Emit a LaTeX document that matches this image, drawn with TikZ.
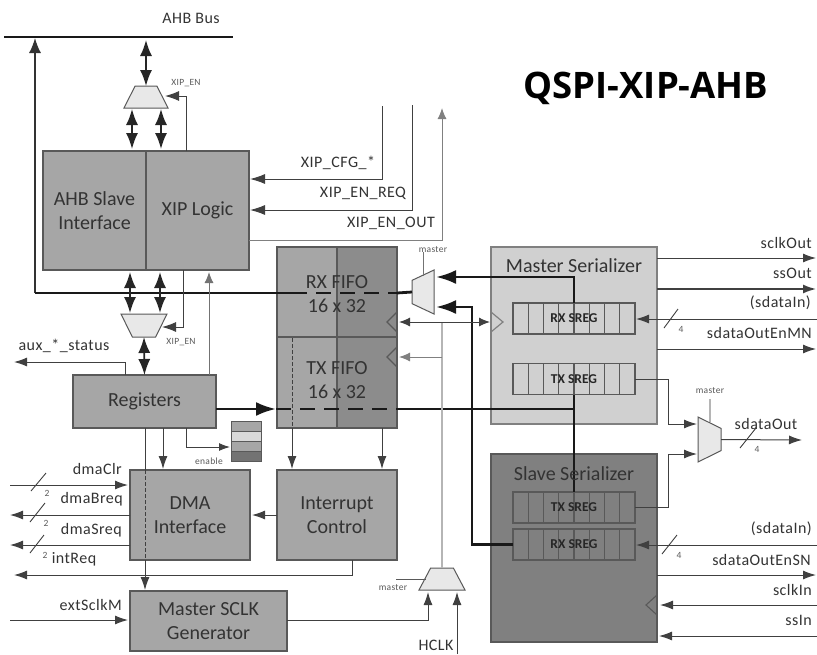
\documentclass[tikz,border=0pt]{standalone}
\usepackage{fontspec}
\setmainfont{Carlito}
\newfontfamily\spacedfont[LetterSpace=3]{Carlito}
\newfontfamily\titlefont{Open Sans}
\usetikzlibrary{arrows.meta,shapes.geometric}
\definecolor{boxgray}{HTML}{A6A6A6}
\definecolor{boxdark}{HTML}{8C8C8C}
\definecolor{boxedge}{HTML}{595959}
\definecolor{masterfill}{HTML}{D0D0D0}
\definecolor{slavefill}{HTML}{808080}
\definecolor{muxfill}{HTML}{E8E8E8}
\definecolor{inktext}{HTML}{333333}
\definecolor{lightwire}{HTML}{B5B5B5}
\newcommand{\muxbody}{\phantom{\rule{1pt}{1pt}}}
\tikzstyle{block} = [draw=boxedge,line width=1.2pt,fill=boxgray,inner sep=0pt,outer sep=0pt,align=center,text=inktext,font=\fontsize{20}{24}\selectfont]
\tikzstyle{fifotext} = [inner sep=0pt,align=center,text=inktext,font=\fontsize{20}{24.5}\selectfont]
\tikzstyle{sregcell} = [draw=boxedge,line width=1.2pt,inner sep=0pt,outer sep=0pt,minimum width=15.25pt,minimum height=31pt]
\tikzstyle{sregtext} = [inner sep=0pt,text=black!85,font=\fontsize{13.5}{14}\bfseries\selectfont]
\tikzstyle{mux} = [draw=boxedge,line width=1pt,fill=muxfill,trapezium,trapezium stretches=true,inner sep=0pt,outer sep=0pt]
\tikzstyle{clocktip} = [draw=boxedge,line width=1.1pt,line join=miter]
\tikzstyle{lbl} = [inner sep=0pt,text=inktext,font=\spacedfont\fontsize{16}{18}\selectfont]
\tikzstyle{tiny} = [inner sep=0pt,text=black!65,font=\spacedfont\fontsize{9.5}{10}\selectfont]
\tikzstyle{wire} = [draw=black!75,line width=1pt]
\tikzstyle{wirearrow} = [wire,-{Latex[length=13pt,width=9pt]}]
\tikzstyle{greyarrow} = [draw=black!50,line width=1pt,-{Latex[length=11pt,width=9pt]}]
\tikzstyle{thickwire} = [draw=black!90,line width=2.8pt]
\tikzstyle{thickarrow} = [thickwire,-{Latex[length=20pt,width=14pt]}]
\tikzstyle{bigdouble} = [draw=black!85,line width=1.6pt,{Latex[length=16pt,width=12pt]}-{Latex[length=16pt,width=12pt]}]
\tikzstyle{slashmark} = [draw=black!75,line width=0.9pt]
\begin{document}
\begin{tikzpicture}[x=1pt,y=-1pt]
\useasboundingbox (0,0) rectangle (817,654);
% serializers and blocks
\node[block,fill=masterfill,draw=black!50,minimum width=166pt,minimum height=177pt] (masterser) at (574,335.5) {};
\node[block,fill=slavefill,minimum width=166pt,minimum height=188pt] (slaveser) at (574,548) {};
\node[block,minimum width=103pt,minimum height=119pt] (ahbslave) at (94.5,210.5) {AHB Slave\\Interface};
\node[block,minimum width=103pt,minimum height=119pt] (xiplogic) at (197.5,210.5) {XIP Logic};
\node[block,minimum width=60pt,minimum height=90pt] (rxleft) at (307,292) {};
\node[block,fill=boxdark,minimum width=60pt,minimum height=90pt] (rxright) at (367,292) {};
\node[block,minimum width=60pt,minimum height=91pt] (txleft) at (307,382.5) {};
\node[block,fill=boxdark,minimum width=60pt,minimum height=91pt] (txright) at (367,382.5) {};
\node[block,minimum width=143pt,minimum height=53pt] (registers) at (144.5,401.5) {Registers};
\node[block,minimum width=120pt,minimum height=90pt] (dmaif) at (190,515) {DMA\\Interface};
\node[block,minimum width=120pt,minimum height=90pt] (intctrl) at (337,515) {Interrupt\\Control};
\node[block,minimum width=157pt,minimum height=60pt] (sclkgen) at (208.5,621) {Master SCLK\\Generator};
% enable stack
\foreach \i/\fillc in {0/boxgray,1/black!15,2/boxgray,3/black!55} {
	\node[draw=boxedge,line width=0.8pt,fill=\fillc,inner sep=0pt,outer sep=0pt,minimum width=30pt,minimum height=10pt] (enable\i) at (246,426+\i*10) {};
}
% muxes
\node[mux,trapezium left angle=63,trapezium right angle=63,minimum width=44pt,minimum height=22pt] (muxtop) at (146,97) {\muxbody};
\node[mux,shape border rotate=180,trapezium left angle=64,trapezium right angle=64,minimum width=46pt,minimum height=23pt] (muxlow) at (144,325.5) {\muxbody};
\node[mux,shape border rotate=90,trapezium left angle=66,trapezium right angle=66,minimum width=44pt,minimum height=22pt] (muxrx) at (423,292) {\muxbody};
\node[mux,shape border rotate=270,trapezium left angle=63,trapezium right angle=63,minimum width=45pt,minimum height=23pt] (muxout) at (709.5,439.5) {\muxbody};
\node[mux,trapezium left angle=63,trapezium right angle=63,minimum width=46pt,minimum height=22pt] (muxclk) at (442,579) {\muxbody};
% shift registers
\foreach \name/\ypos/\text in {mrx/318.5/RX SREG,mtx/379/TX SREG,stx/507.5/TX SREG,srx/544.5/RX SREG} {
	\foreach \x in {0,1,...,7} {
		\node[sregcell] (\name\x) at (520.6+\x*15.25,\ypos) {};
	}
	\node[sregtext] (\name text) at (574,\ypos) {\text};
}
% ports
\coordinate (buswest) at (4,37);
\coordinate (buseast) at (233,37);
\coordinate (busleft) at (35,38);
\coordinate (busdrop) at (146,40);
\coordinate (rxbus) at (35,293);
\coordinate (rxbusend) at (292,293);
\coordinate (rxmuxin) at (397,293);
\coordinate (txbusin) at (216,409);
\coordinate (txbusin2) at (276,409);
\coordinate (txbusout) at (397,409);
\coordinate (txcorner) at (573,409);
\coordinate (mrxup) at (573,277);
\coordinate (mrxmux) at (436,277);
\coordinate (srxmux) at (436,307);
\coordinate (srxcorner) at (472,307);
\coordinate (srxlow) at (472,548);
% bus and thick paths
\draw[draw=black!90,line width=2.6pt] (buswest) -- (buseast);
\draw[draw=black!80,line width=1.3pt,-{Latex[length=15pt,width=12pt]}] (rxbus) -- (busleft);
\draw[thickwire] (rxbus) -- (rxbusend);
\draw[thickwire,dashed,dash pattern=on 15pt off 9pt] (rxbusend) -- (rxmuxin);
\draw[thickwire] (rxmuxin) -- (muxrx.top side);
\draw[thickarrow] (mrx4.north west) |- (mrxmux);
\draw[thickarrow] (srx0.west) -| (srxcorner) -- (srxmux);
\draw[thickarrow] (txbusin) -- (txbusin2);
\draw[thickwire,dashed,dash pattern=on 15pt off 9pt] (txbusin2) -- (txbusout);
\draw[thickwire] (txbusout) -- (txcorner);
\draw[thickwire] (mtx4.south west) -- (stx4.north west);
% double arrows
\coordinate (ahbtopa) at (132,149);
\coordinate (ahbtopb) at (161,149);
\coordinate (muxtopa) at (132,109);
\coordinate (muxtopb) at (161,109);
\coordinate (ahblowa) at (130,272);
\coordinate (ahblowb) at (160,272);
\coordinate (muxlowa) at (130,313);
\coordinate (muxlowb) at (160,313);
\draw[bigdouble] (busdrop) -- (muxtop.top side);
\draw[bigdouble] (ahbtopa) -- (muxtopa);
\draw[bigdouble] (ahbtopb) -- (muxtopb);
\draw[bigdouble] (ahblowa) -- (muxlowa);
\draw[bigdouble] (ahblowb) -- (muxlowb);
\draw[bigdouble] (muxlow.top side) -- (registers.north);
% xip wires
\coordinate (xipentop) at (186,151);
\coordinate (xipentopin) at (165,96);
\coordinate (cfgtop) at (382,106);
\coordinate (cfgin) at (250,179);
\coordinate (reqtop) at (412,105);
\coordinate (reqin) at (250,210);
\coordinate (outstart) at (249,240);
\coordinate (outtop) at (442,108);
\coordinate (xipenlow) at (183,270);
\coordinate (xipenlowin) at (162,327);
\coordinate (regup) at (209,375);
\coordinate (regupend) at (209,272);
\coordinate (auxstart) at (125,375);
\coordinate (auxend) at (14,362);
\draw[wire,-{Latex[length=14pt,width=10pt]}] (xipentop) |- (xipentopin);
\draw[wirearrow,-{Latex[length=15pt,width=10pt]}] (cfgtop) |- (cfgin);
\draw[wirearrow,-{Latex[length=15pt,width=10pt]}] (reqtop) |- (reqin);
\draw[greyarrow] (outstart) -| (outtop);
\draw[wire,-{Latex[length=14pt,width=10pt]}] (xipenlow) |- (xipenlowin);
\draw[greyarrow,draw=black!55] (regup) -- (regupend);
\draw[wirearrow] (auxstart) |- (auxend);
% clock wires
\coordinate (rxclock) at (399,322);
\coordinate (mclock) at (490,322);
\coordinate (txclock) at (399,357);
\coordinate (clkbranch) at (442,357);
\coordinate (clkhigh) at (442,322);
\draw[draw=lightwire,line width=1.2pt] (muxclk.top side) -- (clkhigh);
\draw[wire,{Latex[length=11pt,width=9pt]}-{Latex[length=11pt,width=9pt]}] (rxclock) -- (mclock);
\draw[greyarrow] (clkbranch) -- (txclock);
\draw[clocktip] (397,312) -- (387,322) -- (397,332);
\draw[clocktip] (397,347) -- (387,357) -- (397,367);
\draw[clocktip,draw=black!50,line width=1.2pt] (491,312) -- (503,322) -- (491,332);
\draw[clocktip] (657,595) -- (646,605) -- (657,615);
% registers and fifo outputs
\coordinate (regdown) at (163,428);
\coordinate (regdownend) at (163,469);
\coordinate (enout) at (186,428);
\coordinate (enin) at (230,447);
\coordinate (sckdown) at (145,428);
\coordinate (sckdasha) at (145,470);
\coordinate (sckdashb) at (145,560);
\coordinate (sckin) at (145,590);
\coordinate (fifodash) at (292,338);
\coordinate (fifoout) at (292,428);
\coordinate (fifoin) at (292,469);
\coordinate (fifooutb) at (382,428);
\coordinate (fifoinb) at (382,469);
\coordinate (intout) at (277,515);
\coordinate (intin) at (252,515);
\coordinate (intreqa) at (352,560);
\coordinate (intreqb) at (14,575);
\draw[wirearrow] (regdown) -- (regdownend);
\draw[wirearrow,-{Latex[length=11pt,width=8pt]}] (enout) |- (enin);
\draw[wire] (sckdown) -- (sckdasha);
\draw[wire,dashed,dash pattern=on 3.5pt off 2.5pt] (sckdasha) -- (sckdashb);
\draw[wirearrow] (sckdashb) -- (sckin);
\draw[wire,dashed,dash pattern=on 3.5pt off 2.5pt] (fifodash) -- (fifoout);
\draw[wirearrow] (fifoout) -- (fifoin);
\draw[wirearrow] (fifooutb) -- (fifoinb);
\draw[wirearrow] (intout) -- (intin);
\draw[wirearrow] (intreqa) |- (intreqb);
% left side signals
\coordinate (dmaclrl) at (10,485);
\coordinate (dmaclrr) at (128,485);
\coordinate (dmabreqr) at (130,515);
\coordinate (dmabreql) at (10,515);
\coordinate (dmasreqr) at (130,545);
\coordinate (dmasreql) at (10,545);
\coordinate (extl) at (10,620);
\coordinate (extr) at (128,620);
\draw[wirearrow] (dmaclrl) -- (dmaclrr);
\draw[wirearrow] (dmabreqr) -- (dmabreql);
\draw[wirearrow] (dmasreqr) -- (dmasreql);
\draw[wirearrow] (extl) -- (extr);
% mux selects and clock inputs
\coordinate (selrx) at (423,252);
\coordinate (selrxb) at (423,276);
\coordinate (selout) at (710,399);
\coordinate (seloutb) at (710,422);
\coordinate (selclk) at (396,579);
\coordinate (selclkb) at (426,579);
\coordinate (sckout) at (287,620);
\coordinate (sckmux) at (428,592);
\coordinate (hclkin) at (457,654);
\coordinate (hclkmux) at (457,592);
\draw[draw=black!55,line width=0.8pt] (selrx) -- (selrxb);
\draw[draw=lightwire,line width=1.1pt] (selout) -- (seloutb);
\draw[draw=black!65,line width=0.9pt] (selclk) -- (selclkb);
\draw[wirearrow] (sckout) -| (sckmux);
\draw[wirearrow] (hclkin) -- (hclkmux);
% serializer outputs
\coordinate (mtxout) at (635,379);
\coordinate (mtxmux) at (697,424);
\coordinate (txturn) at (668,424);
\coordinate (stxout) at (635,507);
\coordinate (stxmux) at (697,454);
\coordinate (stxturn) at (668,454);
\coordinate (sdataend) at (802,440);
\draw[wirearrow] (mtxout) -| (txturn) -- (mtxmux);
\draw[wirearrow] (stxout) -| (stxturn) -- (stxmux);
\draw[wirearrow] (muxout.top side) -- (sdataend);
% right side signals
\coordinate (sclkoutl) at (657,258);
\coordinate (sclkoutr) at (816,258);
\coordinate (ssoutl) at (657,289);
\coordinate (ssoutr) at (816,289);
\coordinate (msdinr) at (817,319);
\coordinate (msdinl) at (636,319);
\coordinate (menl) at (657,349);
\coordinate (menr) at (816,349);
\coordinate (ssdinr) at (817,545);
\coordinate (ssdinl) at (636,545);
\coordinate (senl) at (657,575);
\coordinate (senr) at (816,575);
\coordinate (sclkinr) at (817,605);
\coordinate (sclkinl) at (660,605);
\coordinate (ssinr) at (817,636);
\coordinate (ssinl) at (659,636);
\draw[wirearrow] (sclkoutl) -- (sclkoutr);
\draw[wirearrow,line width=1.5pt] (ssoutl) -- (ssoutr);
\draw[wirearrow] (msdinr) -- (msdinl);
\draw[wirearrow] (menl) -- (menr);
\draw[wirearrow] (ssdinr) -- (ssdinl);
\draw[wirearrow] (senl) -- (senr);
\draw[wirearrow] (sclkinr) -- (sclkinl);
\draw[wirearrow] (ssinr) -- (ssinl);
% bus width slashes
\foreach \name/\xa/\ya/\xb/\yb/\xn/\yn/\width in {clr/31/491/46/473/47/493/2,breq/30/522/45/503/46/523/2,sreq/30/553/44/535/45/555/2,min/664/328/678/309/681/329/4,out/740/448/756/428/757/449/4,sin/662/554/677/535/679/555/4} {
	\draw[slashmark] (\xa,\ya) -- (\xb,\yb);
	\node[tiny] (width\name) at (\xn,\yn) {\width};
}
% labels
\node[fifotext] (rxtext) at (337,294) {RX FIFO\\16 x 32};
\node[fifotext] (txtext) at (337,380) {TX FIFO\\16 x 32};
\node[inner sep=0pt,text=inktext,font=\fontsize{20}{22}\selectfont] (mastertext) at (574,266) {Master Serializer};
\node[inner sep=0pt,text=inktext,font=\fontsize{20}{22}\selectfont] (slavetext) at (574,474) {Slave Serializer};
\node[inner sep=0pt,font=\titlefont\bfseries\fontsize{36.5}{40}\selectfont] (title) at (646,88) {QSPI-XIP-AHB};
\node[lbl] (ahbbus) at (191,18) {AHB Bus};
\node[lbl] (lblcfg) at (338,163) {XIP\_CFG\_*};
\node[lbl] (lblreq) at (363,193) {XIP\_EN\_REQ};
\node[lbl] (lblout) at (391,223) {XIP\_EN\_OUT};
\node[lbl] (lblaux) at (64,346) {aux\_*\_status};
\node[lbl,anchor=east] (lblclr) at (122,469) {dmaClr};
\node[lbl,anchor=east] (lblbreq) at (123,499) {dmaBreq};
\node[lbl,anchor=east] (lblsreq) at (122,530) {dmaSreq};
\node[lbl] (lblint) at (74,559) {intReq};
\node[lbl,anchor=east] (lblext) at (122,605) {extSclkM};
\node[lbl] (lblhclk) at (436,645) {HCLK};
\node[lbl,anchor=east] (lblsclk) at (812,243) {sclkOut};
\node[lbl,anchor=east] (lblss) at (812,273) {ssOut};
\node[lbl,anchor=east] (lblmin) at (811,303) {(sdataIn)};
\node[lbl,anchor=east] (lblmen) at (812,333) {sdataOutEnMN};
\node[lbl] (lblsdout) at (766,424) {sdataOut};
\node[lbl,anchor=east] (lblsin) at (812,529) {(sdataIn)};
\node[lbl,anchor=east] (lblsen) at (811,560) {sdataOutEnSN};
\node[lbl,anchor=east] (lblsck) at (812,590) {sclkIn};
\node[lbl,anchor=east] (lblssin) at (812,620) {ssIn};
\node[tiny] (enxiptop) at (186,83) {XIP\_EN};
\node[tiny] (enxiplow) at (181,342) {XIP\_EN};
\node[tiny] (selrxtext) at (433,250) {master};
\node[tiny] (selouttext) at (710,391) {master};
\node[tiny] (selclktext) at (393,588) {master};
\node[tiny] (enabletext) at (209,461) {enable};
\end{tikzpicture}
\end{document}
